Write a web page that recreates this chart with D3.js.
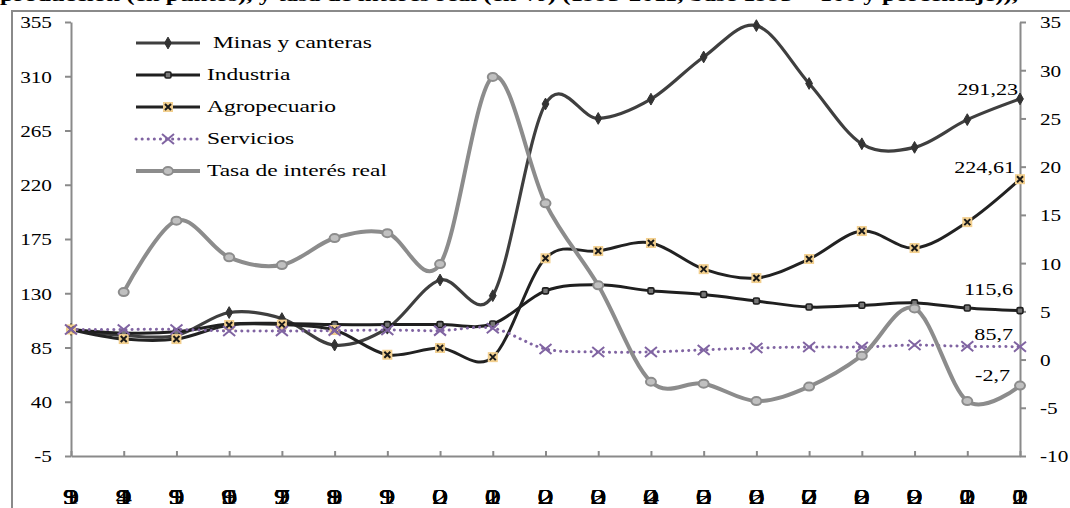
<!DOCTYPE html>
<meta charset="utf-8" />
<title>Sectores y tasa de interés real</title>
<script src="https://d3js.org/d3.v7.min.js"></script>
<style>
  body { margin: 0; background: #fff; }
  svg text { font-family: 'Liberation Serif', 'Times New Roman', serif; fill: #000; }
</style>
<body>
<svg id="chart" width="1070" height="508"></svg>
<script>
  // data
  var years      = ['1993','1994','1995','1996','1997','1998','1999','2000','2001','2002',
                    '2003','2004','2005','2006','2007','2008','2009','2010','2011'];
  var minas      = [100, 95, 95, 114, 109, 87, 101, 141, 128, 287, 275, 291, 326, 352, 304, 254, 251, 274, 291.23];
  var industria  = [100, 97, 98, 104.5, 105, 104, 104, 104, 104.5, 132, 137, 132, 129, 123.6, 118.6, 120, 122, 117.8, 115.6];
  var agro       = [100, 92, 92, 103.7, 104, 99.5, 79, 84.6, 77, 159, 165, 171.7, 150, 142.6, 158.4, 181.6, 167.5, 189, 224.61];
  var servicios  = [100, 100, 100, 98.7, 98.7, 99, 99.5, 99, 101, 83.8, 81.3, 81.3, 83, 84.6, 85.4, 85.4, 87, 86, 85.7];
  var tasa       = [null, 7.0, 14.4, 10.6, 9.8, 12.6, 13.1, 9.9, 29.3, 16.2, 7.7, -2.3, -2.5, -4.3, -2.8, 0.4, 5.3, -4.3, -2.7];
  var leftTicks  = [-5, 40, 85, 130, 175, 220, 265, 310, 355];
  var rightTicks = [-10, -5, 0, 5, 10, 15, 20, 25, 30, 35];
  var seriesNames = ['Minas y canteras', 'Industria', 'Agropecuario', 'Servicios', 'Tasa de interés real'];
  var endLabels  = ['291,23', '115,6', '224,61', '85,7', '-2,7'];

  var SX = 1.25; // text in the picture is stretched sideways
  var gray = '#8a8a8a';
  var serif = "'Liberation Serif', 'Times New Roman', serif";

  var svg = d3.select('#chart');

  var x  = d3.scalePoint().domain(years).range([71, 1020]);
  var yL = d3.scaleLinear().domain([-5, 355]).range([456, 22]);
  var yR = d3.scaleLinear().domain([-10, 35]).range([456, 22]);

  // title, mostly cut off by the top edge
  svg.append('text')
    .attr('x', 0).attr('y', 1)
    .attr('font-family', serif)
    .attr('textLength', 1018).attr('lengthAdjust', 'spacingAndGlyphs')
    .style('font-weight', 'bold').style('font-size', '19px')
    .text('producción (en puntos), y tasa de interés real (en %) (1993-2011, base 1993 = 100 y porcentaje)),');

  // outer frame of the chart area
  svg.append('path')
    .attr('d', 'M12,508 L12,11 L1070,11')
    .attr('fill', 'none').attr('stroke', gray).attr('stroke-width', 2);

  // axes
  var fmt = function(d) { return String(d); }; // plain hyphen for negatives
  var gL = svg.append('g').attr('transform', 'translate(71,0)')
    .call(d3.axisLeft(yL).tickValues(leftTicks).tickSize(6).tickSizeOuter(0).tickFormat(fmt));
  var gR = svg.append('g').attr('transform', 'translate(1020,0)')
    .call(d3.axisRight(yR).tickValues(rightTicks).tickSize(6).tickSizeOuter(0).tickFormat(fmt));
  var gX = svg.append('g').attr('transform', 'translate(0,456)')
    .call(d3.axisBottom(x).tickSize(-5).tickSizeOuter(0).tickFormat(''));

  [gL, gR, gX].forEach(function(g) {
    g.attr('font-family', serif);
    g.select('.domain').attr('stroke', gray).attr('stroke-width', 2);
    g.selectAll('.tick line').attr('stroke', gray).attr('stroke-width', 2);
  });
  gX.selectAll('.tick text').remove();
  gL.selectAll('.tick text')
    .attr('x', -19 / SX).attr('dy', '0.35em')
    .attr('transform', 'scale(' + SX + ',1)')
    .style('font-size', '17px');
  gR.selectAll('.tick text')
    .attr('x', 20 / SX).attr('dy', '0.35em')
    .attr('transform', 'scale(' + SX + ',1)')
    .style('font-size', '17px');

  // year labels: the four digits are printed on top of each other, as in the picture
  var fs = 22, ysx = 1.5;
  var yearText = svg.append('g').selectAll('text')
    .data(years).join('text')
    .attr('font-family', serif)
    .attr('transform', function(d) { return 'translate(' + (x(d) - fs * 0.25 * ysx) + ',504) scale(' + ysx + ',1)'; })
    .style('font-size', fs + 'px');
  yearText.selectAll('tspan')
    .data(function(d) { return d.split(''); })
    .join('tspan')
    .attr('x', 0)
    .text(function(c) { return c; });

  var curve = d3.curveCardinal.tension(0);

  function drawLine(vals, scale, stroke, width, dash) {
    var line = d3.line()
      .defined(function(d) { return d != null; })
      .x(function(d, i) { return x(years[i]); })
      .y(function(d) { return scale(d); })
      .curve(curve);
    svg.append('path')
      .datum(vals)
      .attr('d', line)
      .attr('fill', 'none')
      .attr('stroke', stroke)
      .attr('stroke-width', width)
      .attr('stroke-linecap', dash ? 'round' : 'butt')
      .attr('stroke-dasharray', dash || null);
  }

  // marker painters
  function diamond(g, cx, cy) {
    g.append('path').attr('d', d3.symbol(d3.symbolDiamond, 40)())
      .attr('transform', 'translate(' + cx + ',' + cy + ')')
      .attr('fill', '#333').attr('stroke', '#333').attr('stroke-width', 1);
  }
  function smallSquare(g, cx, cy) {
    g.append('rect').attr('x', cx - 3).attr('y', cy - 3).attr('width', 6).attr('height', 6)
      .attr('rx', 1.5)
      .attr('fill', '#777').attr('stroke', '#1f1f1f').attr('stroke-width', 1.6);
  }
  function tanCross(g, cx, cy) {
    g.append('rect').attr('x', cx - 5).attr('y', cy - 5).attr('width', 10).attr('height', 10)
      .attr('fill', '#f2cf8e');
    g.append('path').attr('d', 'M' + (cx - 3) + ',' + (cy - 3) + 'L' + (cx + 3) + ',' + (cy + 3) +
        'M' + (cx + 3) + ',' + (cy - 3) + 'L' + (cx - 3) + ',' + (cy + 3))
      .attr('stroke', '#1a1a1a').attr('stroke-width', 2);
  }
  function purpleX(g, cx, cy) {
    g.append('path').attr('d', 'M' + (cx - 6) + ',' + (cy - 5) + 'L' + (cx + 6) + ',' + (cy + 5) +
        'M' + (cx + 6) + ',' + (cy - 5) + 'L' + (cx - 6) + ',' + (cy + 5))
      .attr('stroke', '#8064a2').attr('stroke-width', 2);
  }
  function grayCircle(g, cx, cy) {
    g.append('ellipse').attr('cx', cx).attr('cy', cy).attr('rx', 5).attr('ry', 4)
      .attr('fill', '#c0c0c0').attr('stroke', '#8c8c8c').attr('stroke-width', 2);
  }

  function drawMarkers(vals, scale, painter) {
    var g = svg.append('g');
    vals.forEach(function(v, i) {
      if (v == null) return;
      painter(g, x(years[i]), scale(v));
    });
  }

  var series = [
    { vals: minas,     scale: yL, stroke: '#3f3f3f', w: 3.2, dash: null,  mark: diamond },
    { vals: industria, scale: yL, stroke: '#1f1f1f', w: 3,   dash: null,  mark: smallSquare },
    { vals: agro,      scale: yL, stroke: '#222',    w: 3,   dash: null,  mark: tanCross },
    { vals: servicios, scale: yL, stroke: '#8064a2', w: 3,   dash: '0.1,6', mark: purpleX },
    { vals: tasa,      scale: yR, stroke: '#8c8c8c', w: 4,   dash: null,  mark: grayCircle }
  ];

  series.forEach(function(s) {
    drawLine(s.vals, s.scale, s.stroke, s.w, s.dash);
    drawMarkers(s.vals, s.scale, s.mark);
  });

  // end-of-series value labels
  var last = years[years.length - 1];
  var labelPos = [
    { txt: endLabels[0], y: yL(minas[18]) - 4,      dx: -2 },
    { txt: endLabels[1], y: yL(industria[18]) - 16, dx: -7 },
    { txt: endLabels[2], y: yL(agro[18]) - 6,       dx: -5 },
    { txt: endLabels[3], y: yL(servicios[18]) - 7,  dx: -7 },
    { txt: endLabels[4], y: yR(tasa[18]) - 5,       dx: -10 }
  ];
  svg.append('g').selectAll('text')
    .data(labelPos).join('text')
    .attr('font-family', serif)
    .attr('transform', function(d) { return 'translate(' + (x(last) + d.dx) + ',' + d.y + ') scale(1.3,1)'; })
    .attr('text-anchor', 'end')
    .style('font-size', '17px')
    .text(function(d) { return d.txt; });

  // legend
  var legY = [43, 75, 107, 139, 171];
  var leg = svg.append('g');
  series.forEach(function(s, i) {
    var yy = legY[i];
    leg.append('line').attr('x1', 136).attr('x2', 200).attr('y1', yy).attr('y2', yy)
      .attr('stroke', s.stroke).attr('stroke-width', s.w)
      .attr('stroke-linecap', s.dash ? 'round' : 'butt')
      .attr('stroke-dasharray', s.dash);
    s.mark(leg, 168, yy);
    leg.append('text')
      .attr('font-family', serif)
      .attr('transform', 'translate(' + (i === 0 ? 213 : 207) + ',' + (yy + 5) + ') scale(1.38,1)')
      .style('font-size', '17px')
      .text(seriesNames[i]);
  });
</script>
</body>
